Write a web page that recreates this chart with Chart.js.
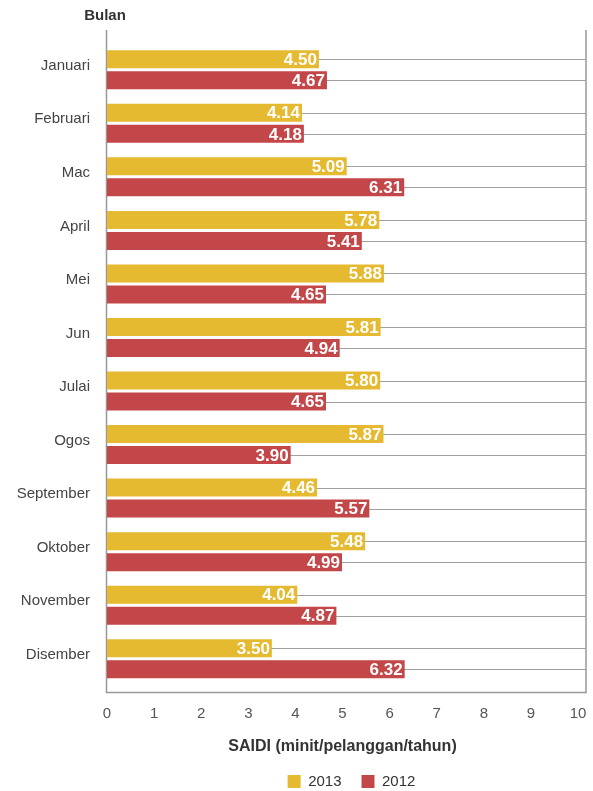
<!DOCTYPE html>
<html>
<head>
<meta charset="utf-8">
<script src="https://cdn.jsdelivr.net/npm/chart.js@4.4.1/dist/chart.umd.min.js"></script>
<style>
  html, body { margin: 0; padding: 0; background: #ffffff; }
  #wrap { width: 593px; height: 791px; }
</style>
</head>
<body>
<div id="wrap"><canvas id="c" width="593" height="791"></canvas></div>
<script>
const months = ["Januari", "Februari", "Mac", "April", "Mei", "Jun", "Julai", "Ogos", "September", "Oktober", "November", "Disember"];
const saidi2013 = [4.50, 4.14, 5.09, 5.78, 5.88, 5.81, 5.80, 5.87, 4.46, 5.48, 4.04, 3.50];
const saidi2012 = [4.67, 4.18, 6.31, 5.41, 4.65, 4.94, 4.65, 3.90, 5.57, 4.99, 4.87, 6.32];
const seriesNames = ["2013", "2012"];
const xTickValues = [0, 1, 2, 3, 4, 5, 6, 7, 8, 9, 10];

const COL_2013 = "#e5ba30";
const COL_2012 = "#c34648";
const FONT = "'Liberation Sans', Arial, Helvetica, sans-serif";

const framePlugin = {
  id: "frame",
  afterLayout(chart) {
    // nudge the legend slightly right, as in the reference
    if (chart.legend) { chart.legend.left += 9; chart.legend.right += 9; }
  },
  beforeDatasetsDraw(chart) {
    const {ctx, chartArea} = chart;
    const rightEdge = chartArea.right + 8;
    ctx.save();
    // guide lines through each bar centre
    ctx.strokeStyle = "#a0a0a0";
    ctx.lineWidth = 1;
    chart.data.datasets.forEach((ds, i) => {
      const meta = chart.getDatasetMeta(i);
      meta.data.forEach(el => {
        const y = Math.round(el.y) + 0.5;
        ctx.beginPath();
        ctx.moveTo(chartArea.left, y);
        ctx.lineTo(rightEdge, y);
        ctx.stroke();
      });
    });
    // frame
    const top = chartArea.top - 13;
    const bottom = chartArea.bottom + 7;
    ctx.strokeStyle = "#999999";
    ctx.lineWidth = 1.5;
    ctx.beginPath();
    ctx.moveTo(chartArea.left - 0.5, top);
    ctx.lineTo(chartArea.left - 0.5, bottom);
    ctx.lineTo(rightEdge, bottom);
    ctx.lineTo(rightEdge, top);
    ctx.stroke();
    ctx.restore();
  },
  afterDatasetsDraw(chart) {
    const {ctx} = chart;
    ctx.save();
    ctx.font = "bold 17px " + FONT;
    ctx.fillStyle = "#ffffff";
    ctx.textAlign = "right";
    ctx.textBaseline = "middle";
    chart.data.datasets.forEach((ds, i) => {
      const meta = chart.getDatasetMeta(i);
      meta.data.forEach((el, j) => {
        ctx.fillText(ds.data[j].toFixed(2), el.x - 2, el.y + 1);
      });
    });
    // "Bulan" header above the category axis
    ctx.font = "bold 15px " + FONT;
    ctx.fillStyle = "#333333";
    ctx.textAlign = "center";
    ctx.fillText("Bulan", chart.chartArea.left - 2, 16);
    ctx.restore();
  }
};

new Chart(document.getElementById("c"), {
  type: "bar",
  data: {
    labels: months,
    datasets: [
      { label: seriesNames[0], data: saidi2013, backgroundColor: COL_2013, borderWidth: 0 },
      { label: seriesNames[1], data: saidi2012, backgroundColor: COL_2012, borderWidth: 0 }
    ]
  },
  options: {
    indexAxis: "y",
    responsive: false,
    animation: false,
    devicePixelRatio: 1,
    categoryPercentage: 0.785,
    barPercentage: 0.857,
    layout: { padding: { left: 0, right: 15, top: 43, bottom: -8 } },
    scales: {
      x: {
        min: 0,
        max: 10,
        afterBuildTicks(scale) { scale.ticks = xTickValues.map(v => ({ value: v })); },
        afterFit(scale) { scale.height = 68.5; scale.paddingLeft = 0; scale.paddingRight = 0; },
        grid: { display: false, drawTicks: false },
        border: { display: false },
        ticks: { color: "#555555", font: { family: FONT, size: 15 }, padding: 19, maxRotation: 0 },
        title: {
          display: true,
          text: "SAIDI (minit/pelanggan/tahun)",
          color: "#333333",
          font: { family: FONT, size: 16, weight: "bold" },
          padding: { top: 0, bottom: -2 }
        }
      },
      y: {
        afterFit(scale) { scale.width = 107; scale.paddingTop = 0; scale.paddingBottom = 0; },
        grid: { display: false, drawTicks: false },
        border: { display: false },
        ticks: { color: "#444444", font: { family: FONT, size: 15 }, padding: 17, labelOffset: -4 }
      }
    },
    plugins: {
      legend: {
        position: "bottom",
        fullSize: false,
        labels: {
          boxWidth: 13,
          boxHeight: 13,
          padding: 20,
          color: "#333333",
          font: { family: FONT, size: 15 }
        }
      },
      tooltip: { enabled: false }
    }
  },
  plugins: [framePlugin]
});
</script>
</body>
</html>
